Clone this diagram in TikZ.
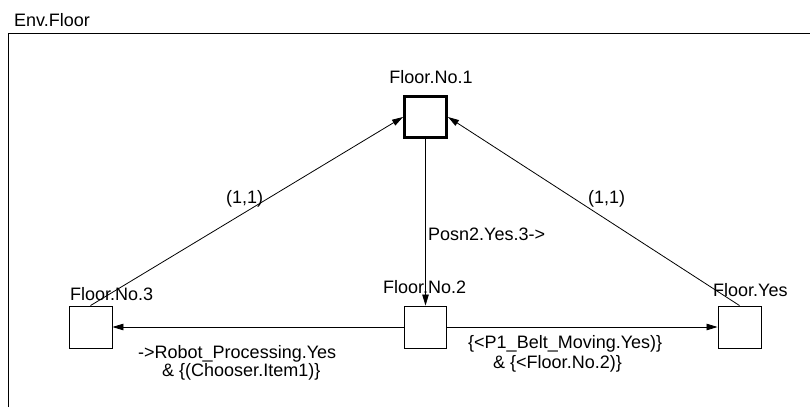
\documentclass[tikz,border=0pt]{standalone}
\usepackage{fontspec}
\setmainfont{Liberation Sans}
\usetikzlibrary{arrows.meta}
\begin{document}
\begin{tikzpicture}[x=1pt,y=-1pt,
  state/.style={draw,rectangle,inner sep=0pt,minimum width=43pt,minimum height=42pt,line width=0.9pt},
  initstate/.style={state,line width=3pt,minimum width=42pt,minimum height=41pt},
  txt/.style={inner sep=0pt,anchor=base west,font=\fontsize{18}{21}\selectfont},
  trans/.style={line width=0.8pt,-{Triangle[length=11pt,width=6.5pt]}}]
\useasboundingbox (0,0) rectangle (810,407);
\draw[line width=1pt] (8,407) -- (8,33) -- (810,33);
\node[txt] (env) at (14,26) {Env.Floor};
\node[initstate] (n1) at (425.5,117) {};
\node[state] (n3) at (90.5,327) {};
\node[state,minimum width=42pt] (n2) at (425.5,327) {};
\node[state] (ny) at (739.5,327) {};
\node[txt,anchor=base] (l1) at (431,83) {Floor.No.1};
\node[txt] (l3) at (70,300) {Floor.No.3};
\node[txt] (l2) at (383,293) {Floor.No.2};
\node[txt] (ly) at (713,296) {Floor.Yes};
\draw[trans] (n3.north) -- (n1.west);
\draw[trans] (ny.north) -- (n1.east);
\draw[trans] (n1.south) -- (n2.north);
\draw[trans] (n2.west) -- (n3.east);
\draw[trans] (n2.east) -- (ny.west);
\node[txt] (e1) at (226,203) {(1,1)};
\node[txt] (e2) at (588,203) {(1,1)};
\node[txt] (e3) at (428,240) {Posn2.Yes.3->};
\node[txt] (e4a) at (138,358) {->Robot\_Processing.Yes};
\node[txt] (e4b) at (162,376.5) {\& \{(Chooser.Item1)\}};
\node[txt] (e5a) at (468,348) {\{<P1\_Belt\_Moving.Yes)\}};
\node[txt] (e5b) at (493,368) {\& \{<Floor.No.2)\}};
\end{tikzpicture}
\end{document}
